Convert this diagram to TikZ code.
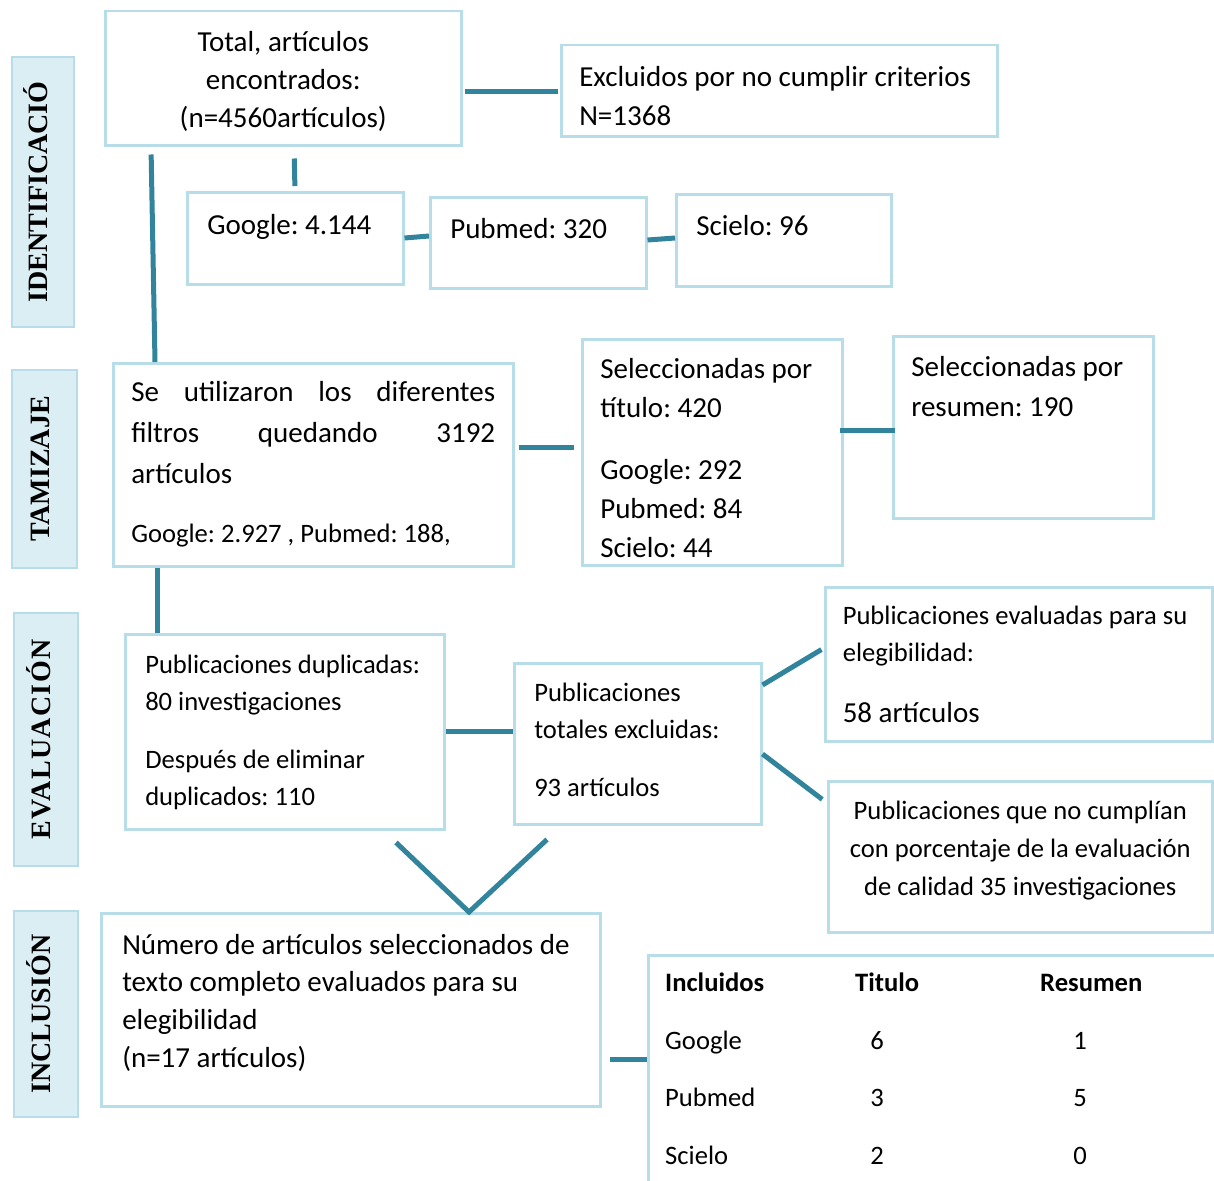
\documentclass[tikz,border=0pt]{standalone}
\usepackage{fontspec}
\setmainfont{Carlito}
\newfontfamily\etapafont{Liberation Serif}
\usetikzlibrary{calc}
\frenchspacing
\definecolor{linkteal}{HTML}{31849B}
\definecolor{framelight}{HTML}{B7DDE8}
\definecolor{phasefill}{HTML}{DBEEF3}
\newcommand{\doce}{\fontsize{29}{39}\selectfont}
\newcommand{\once}{\fontsize{26.6}{37}\selectfont}
\tikzset{
  box/.style={rectangle,draw=framelight,line width=2.5pt,fill=white,anchor=north west,inner ysep=0pt,align=flush left},
  phase/.style={rectangle,draw=framelight,line width=2.5pt,fill=phasefill,rotate=90,inner sep=0pt,text height=21pt,text depth=12pt,font=\etapafont\bfseries\fontsize{28}{30}\selectfont},
  link/.style={line width=5pt,linkteal},
  cell/.style={anchor=base west,inner sep=0pt,font=\once}
}

\begin{document}
\begin{tikzpicture}[x=1pt,y=-1pt]
  \useasboundingbox (0,0) rectangle (1214,1180);
  \clip (0,0) rectangle (1214,1180);

  % etapas
  \node[phase,minimum width=270,minimum height=62] (ident) at (43,192) {IDENTIFICACIÓ};
  \node[phase,minimum width=198,minimum height=65] (tamiz) at (44.5,469) {TAMIZAJE};
  \node[phase,minimum width=253,minimum height=64] (evalua) at (46,739.5) {\addfontfeature{LetterSpace=5}EVALUACIÓN};
  \node[phase,minimum width=206,minimum height=64] (inclus) at (46,1014) {INCLUSIÓN};

  % identificacion
  \node[box,minimum width=356,minimum height=134,text width=316pt,inner xsep=20pt,align=flush center,text height=40pt,text depth=94pt,font=\fontsize{29}{38}\selectfont] (total) at (104,10)
    {Total, artículos\\encontrados:\\(n=4560artículos)};
  \node[box,minimum width=436,minimum height=91,text width=400pt,inner xsep=18pt,text height=41pt,text depth=50pt,font=\doce] (excluidos) at (560,44)
    {Excluidos por no cumplir criterios\\N=1368};
  \node[box,minimum width=216,minimum height=92,text width=176pt,inner xsep=20pt,text height=42pt,text depth=50pt,font=\doce] (google) at (186,191) {Google: 4.144};
  \node[box,minimum width=216,minimum height=91,text width=176pt,inner xsep=20pt,text height=41pt,text depth=50pt,font=\doce] (pubmed) at (429,196) {Pubmed: 320};
  \node[box,minimum width=215,minimum height=92,text width=175pt,inner xsep=20pt,text height=41pt,text depth=51pt,font=\doce] (scielo) at (675,193) {Scielo: 96};

  % tamizaje
  \node[box,minimum width=400,minimum height=203,text width=364pt,inner xsep=17pt,text height=38pt,text depth=165pt,font=\fontsize{29}{41}\selectfont] (filtros) at (112,362)
    {Se\hfill utilizaron\hfill los\hfill diferentes\\filtros\hfill quedando\hfill 3192\\artículos\\[18pt]{\once Google: 2.927 , Pubmed: 188,}};
  \node[box,minimum width=260,minimum height=226,text width=224pt,inner xsep=18pt,text height=39pt,text depth=187pt,font=\doce] (titulo) at (581,338)
    {Seleccionadas por\\título: 420\\[23pt]Google: 292\\Pubmed: 84\\Scielo: 44};
  \node[box,minimum width=260,minimum height=182,text width=224pt,inner xsep=18pt,text height=40pt,text depth=142pt,font=\fontsize{29}{40}\selectfont] (resumen) at (892,335)
    {Seleccionadas por\\resumen: 190};

  % evaluacion
  \node[box,minimum width=319,minimum height=195,text width=279pt,inner xsep=20pt,text height=39.5pt,text depth=155.5pt,font=\once] (duplicadas) at (124,633)
    {Publicaciones duplicadas:\\80 investigaciones\\[21pt]Después de eliminar\\duplicados: 110};
  \node[box,minimum width=247,minimum height=161,text width=207pt,inner xsep=20pt,text height=38.5pt,text depth=122.5pt,font=\once] (excluidas) at (513,662)
    {Publicaciones\\totales excluidas:\\[21pt]93 artículos};
  \node[box,minimum width=387,minimum height=154,text width=352pt,inner xsep=17.5pt,text height=37.5pt,text depth=116.5pt,font=\once] (evaluadas) at (824,586)
    {Publicaciones evaluadas para su\\elegibilidad:\\[23.5pt]{\doce 58 artículos}};
  \node[box,minimum width=384,minimum height=151,text width=356pt,inner xsep=14pt,align=flush center,text height=38.5pt,text depth=112.5pt,font=\fontsize{26.6}{38}\selectfont] (calidad) at (827,780)
    {Publicaciones que no cumplían\\con porcentaje de la evaluación\\de calidad 35 investigaciones};

  % inclusion
  \node[box,minimum width=499,minimum height=193,text width=457pt,inner xsep=21pt,text height=41pt,text depth=152pt,font=\fontsize{29}{37.7}\selectfont] (seleccion) at (100,912)
    {Número de artículos seleccionados de\\texto completo evaluados para su\\elegibilidad\\(n=17 artículos)};
  \node[box,minimum width=700,minimum height=400] (tabla) at (647,954) {};
  \node[cell,font=\once\bfseries] (hinc) at (665,991.5) {Incluidos};
  \node[cell,font=\once\bfseries] (htit) at (855,991.5) {Titulo};
  \node[cell,font=\once\bfseries] (hres) at (1040,991.5) {Resumen};
  \foreach \nom/\ti/\re [count=\i] in {Google/6/1,Pubmed/3/5,Scielo/2/0} {
    \node[cell] (nom\i) at (665,991.5+57.7*\i) {\nom};
    \node[cell,anchor=base] (tit\i) at (877,991.5+57.7*\i) {\ti};
    \node[cell,anchor=base] (res\i) at (1080,991.5+57.7*\i) {\re};
  }

  % conectores
  \draw[link,shorten <=2pt,shorten >=2pt] (total.east |- 0,92) -- (excluidos.west |- 0,92);
  \draw[link,shorten <=12pt,shorten >=5pt] (total.south -| 294,0) -- (google.north -| 295,0);
  \draw[link] (google.east |- 0,238) -- (pubmed.west |- 0,236);
  \draw[link] (pubmed.east |- 0,240) -- (scielo.west |- 0,238);
  \draw[link,shorten <=8pt] (total.south -| 151,0) -- (filtros.north -| 155,0);
  \draw[link,shorten <=4pt,shorten >=7pt] (filtros.east |- 0,447) -- (titulo.west |- 0,447);
  \draw[link,shorten <=-4pt,shorten >=-3pt] (titulo.east |- 0,430) -- (resumen.west |- 0,430);
  \draw[link] (filtros.south -| 157,0) -- (duplicadas.north -| 157,0);
  \draw[link] (duplicadas.east |- 0,731) -- (excluidas.west |- 0,731);
  \draw[link,shorten >=3pt] (excluidas.east |- 0,685) -- (evaluadas.west |- 0,648);
  \draw[link,shorten >=6pt] (excluidas.east |- 0,754) -- (calidad.west |- 0,803);
  \draw[link] ($(duplicadas.south -| 396,0)+(0,12)$) -- (seleccion.north -| 469,0) -- ($(excluidas.south -| 547,0)+(0,14)$);
  \draw[link,shorten <=8pt] (seleccion.east |- 0,1059) -- (tabla.west |- 0,1059);
\end{tikzpicture}
\end{document}
